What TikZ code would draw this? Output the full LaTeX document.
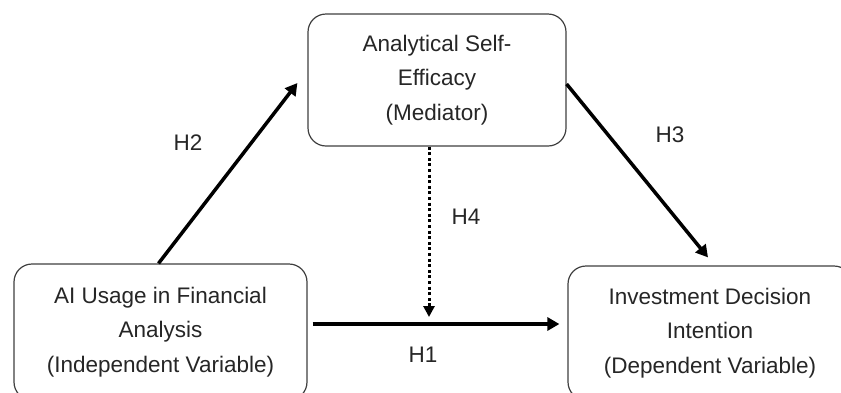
\documentclass[tikz,border=0pt]{standalone}
\usepackage{fontspec}
\setmainfont{Liberation Sans}
\usetikzlibrary{arrows.meta}
\definecolor{boxline}{HTML}{404040}
\definecolor{txt}{HTML}{262626}
\begin{document}
\begin{tikzpicture}[x=1pt,y=-1pt,
  varbox/.style={draw=boxline, line width=1.2pt, rounded corners=18pt, align=center,
    text=txt, font=\fontsize{22.5}{34.5}\selectfont, inner sep=0pt},
  arr/.style={draw=black, line width=3.5pt, -{Triangle[length=12pt,width=13pt]}},
  dotarr/.style={draw=black, line width=3pt, dash pattern=on 3pt off 2.6pt, -{Triangle[length=11pt,width=11pt]}},
  hlab/.style={text=txt, font=\fontsize{22.5}{26}\selectfont, inner sep=0pt}]
\useasboundingbox (0,0) rectangle (841,392);
\clip (0,0) rectangle (841,392);
\fill[white] (0,0) rectangle (841,392);
\node[varbox, minimum width=258pt, minimum height=132pt] (med) at (437,80)
  {Analytical Self-\\Efficacy\\(Mediator)};
\node[varbox, minimum width=293pt, minimum height=136pt] (iv) at (160.5,332)
  {AI Usage in Financial\\Analysis\\(Independent Variable)};
\node[varbox, minimum width=284pt, minimum height=134pt] (dv) at (710,333)
  {Investment Decision\\Intention\\(Dependent Variable)};
\coordinate (h4end) at (429,317);
\draw[arr] ([xshift=-2pt]iv.north) -- ([xshift=-10pt,yshift=-3pt]med.west);
\draw[arr] ([yshift=-4pt]med.east) -- ([xshift=-2pt,yshift=8pt]dv.north);
\draw[arr] ([xshift=5pt,yshift=8pt]iv.east) -- ([xshift=-8pt,yshift=9pt]dv.west);
\draw[dotarr] ([xshift=-8pt]med.south) -- (h4end);
\node[hlab] (h2) at (188,143) {H2};
\node[hlab] (h3) at (670,135) {H3};
\node[hlab] (h4) at (466,217) {H4};
\node[hlab] (h1) at (423,355) {H1};
\end{tikzpicture}
\end{document}
